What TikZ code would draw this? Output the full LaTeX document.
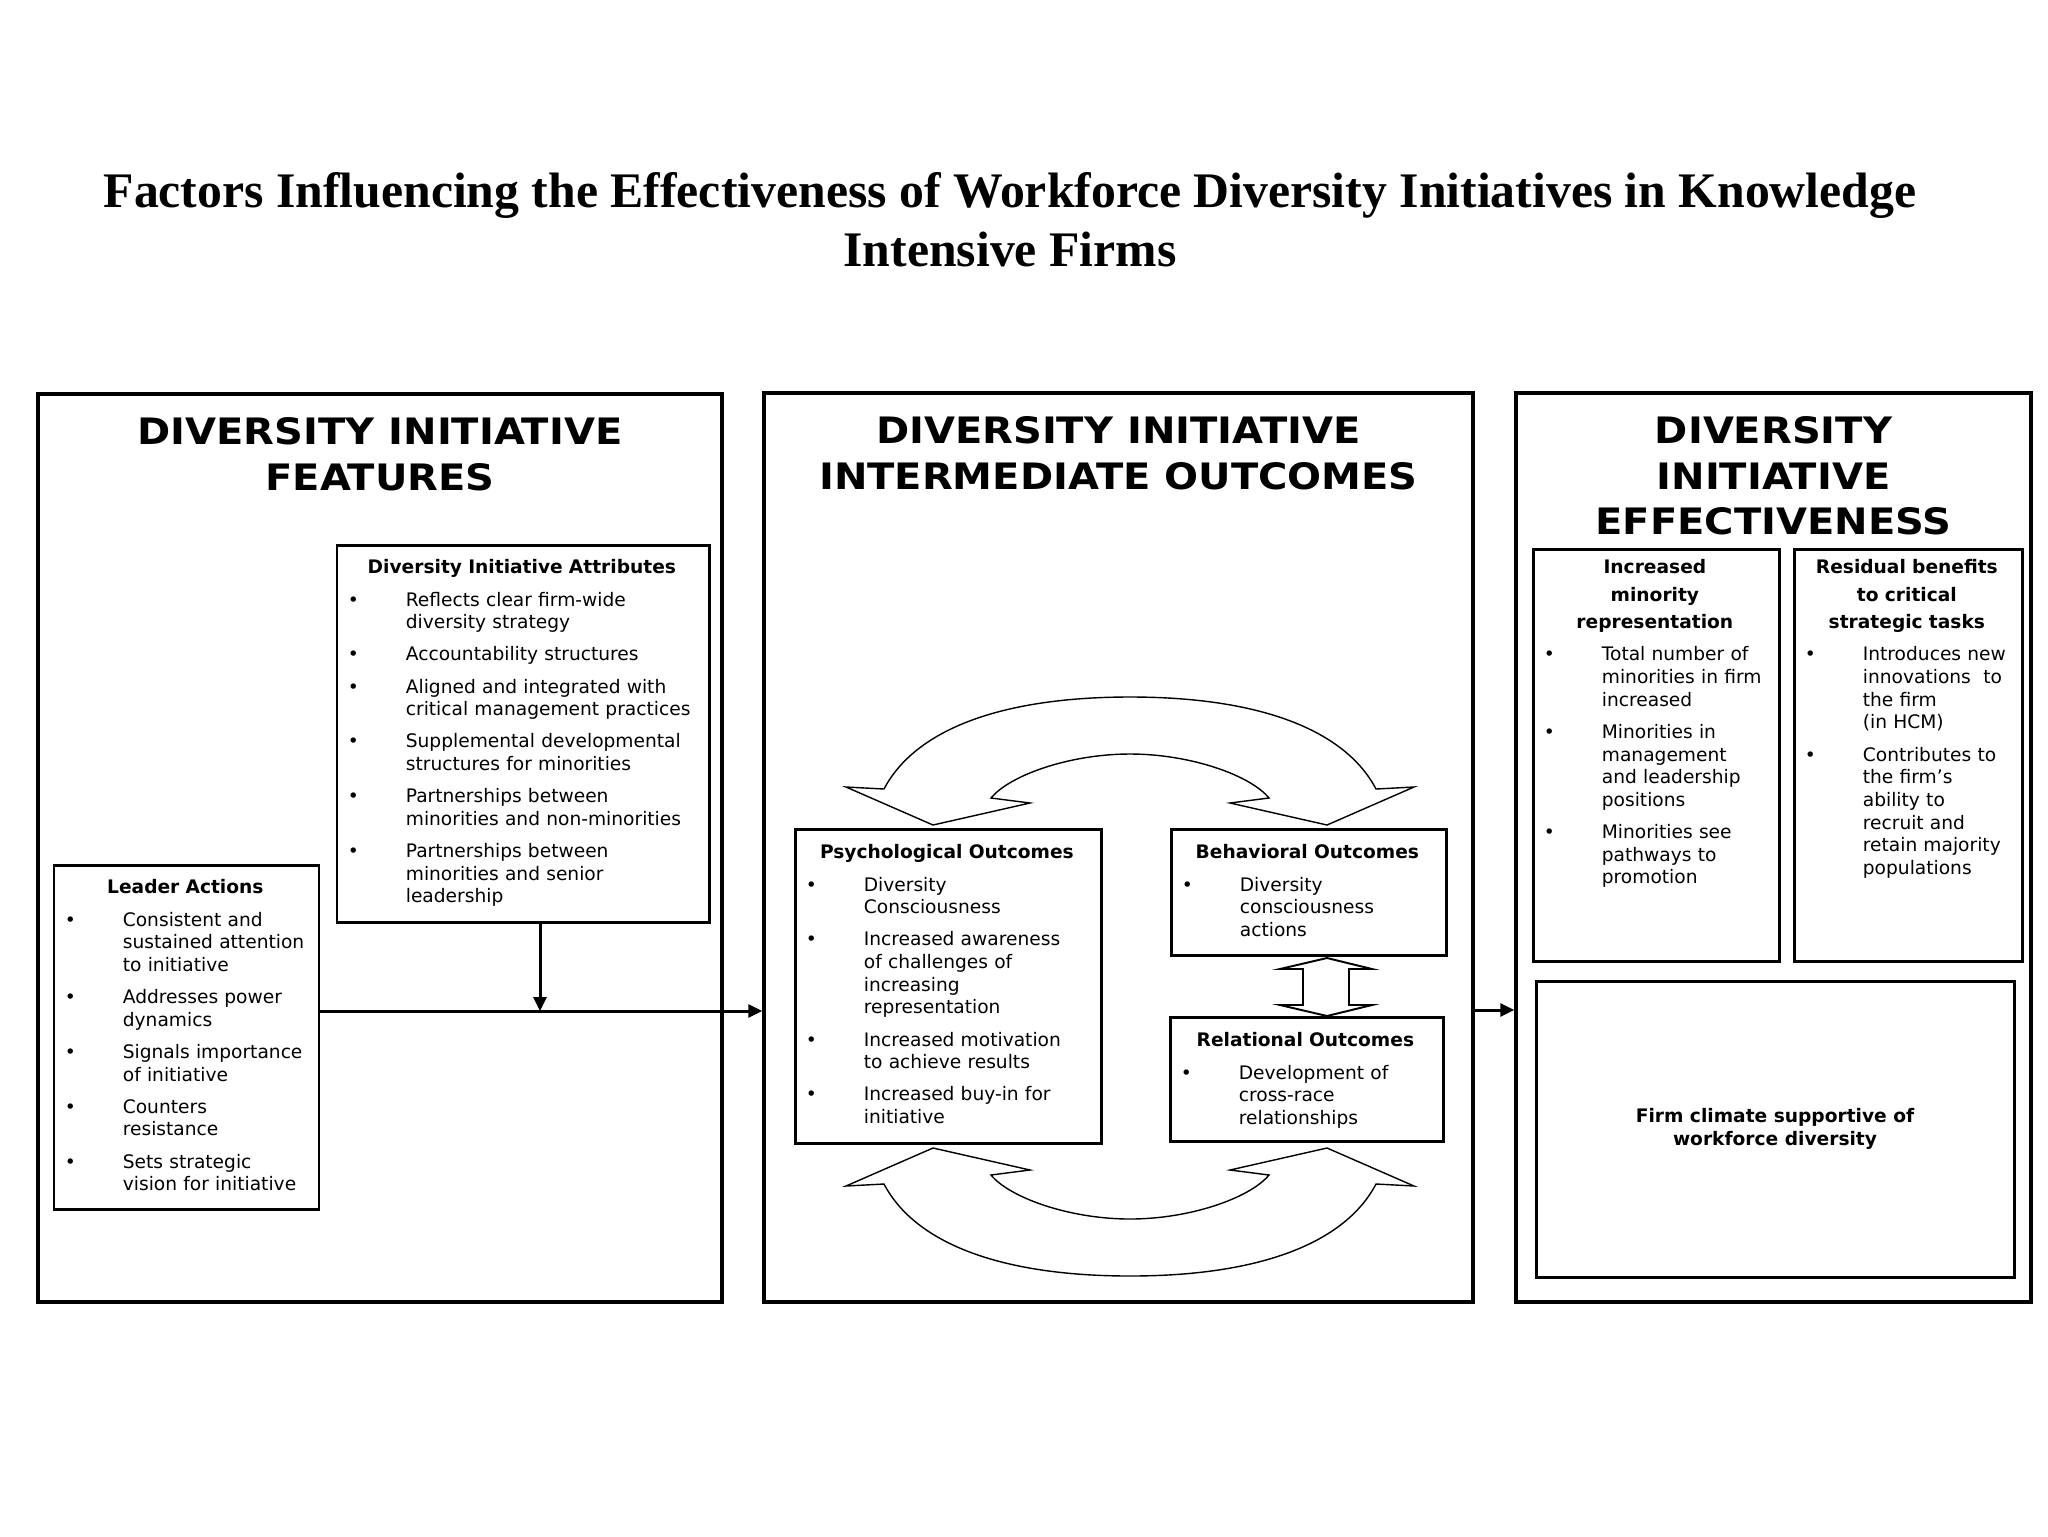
\documentclass[tikz,border=0pt]{standalone}
\usepackage{fontspec}
\setmainfont{Liberation Serif}
\setsansfont{DejaVu Sans}
\newfontfamily\headfont[FakeStretch=1.1]{DejaVu Sans}
\usetikzlibrary{positioning,arrows.meta,calc,fit}

\newcommand{\bodyfont}{\sffamily\fontsize{10.6}{12.9}\selectfont}
\newcommand{\boxhead}[1]{{\centering\bfseries\rule{0pt}{3mm}#1\par}\vspace{1.9mm}}
\newcommand{\widehead}[1]{{\centering\bfseries\fontsize{10.6}{15.6}\selectfont\rule{0pt}{3mm}#1\par}\vspace{1.9mm}}
\newcommand{\bitem}[1]{{\hsize=\dimexpr\hsize+15mm\relax\leftskip=11.6mm\noindent\hspace*{-11.6mm}\makebox[11.6mm][l]{•}#1\par}\vspace{1.9mm}}

\begin{document}
\begin{tikzpicture}[x=0.2mm,y=-0.2mm]
\tikzset{
  panel/.style={draw, line width=2pt, inner sep=0pt},
  itembox/.style={draw, line width=1.7pt, inner sep=0pt},
  itemtext/.style={anchor=north west, inner sep=0pt, text width=#1, align=left, font=\bodyfont},
  panelhead/.style={anchor=north, inner sep=0pt, align=center, font=\headfont\bfseries\fontsize{20.7}{25.9}\selectfont},
  conn/.style={line width=1.7pt, -{Triangle[length=2.8mm,width=2.6mm]}},
  cyclearrow/.style={draw, fill=white, line width=0.8pt, line join=miter}
}
\path[use as bounding box, fill=white] (0,0) rectangle (2048,1536);

\node[anchor=north, inner sep=0pt, align=center, font=\bfseries\fontsize{28.3}{33.5}\selectfont] (title) at (1010,172)
  {Factors Influencing the Effectiveness of Workforce Diversity Initiatives in Knowledge\\Intensive Firms};

% the three panels
\node[panel, fit={(38,394) (722,1302)}] (features) {};
\node[panel, fit={(764,393) (1473,1302)}] (intermediate) {};
\node[panel, fit={(1516,393) (2031,1302)}] (effect) {};

\node[panelhead] (featureshead) at ([yshift=-5mm]features.north) {DIVERSITY INITIATIVE\\FEATURES};
\node[panelhead] (intermediatehead) at ([yshift=-5mm]intermediate.north) {DIVERSITY INITIATIVE\\INTERMEDIATE OUTCOMES};
\node[panelhead] (effecthead) at ([yshift=-5mm]effect.north) {DIVERSITY\\INITIATIVE\\EFFECTIVENESS};

% features
\node[itembox, fit={(337,545) (709,922)}] (attr) {};
\node[itemtext=69.6mm] (attrtext) at ([xshift=2.4mm,yshift=-3mm]attr.north west) {%
  \boxhead{Diversity Initiative Attributes}
  \bitem{Reflects clear firm-wide\\diversity strategy}
  \bitem{Accountability structures}
  \bitem{Aligned and integrated with\\critical management practices}
  \bitem{Supplemental developmental\\structures for minorities}
  \bitem{Partnerships between\\minorities and non-minorities}
  \bitem{Partnerships between\\minorities and senior\\leadership}};

\node[itembox, fit={(54,865) (319,1209)}] (leader) {};
\node[itemtext=48.2mm] (leadertext) at ([xshift=2.4mm,yshift=-3mm]leader.north west) {%
  \boxhead{Leader Actions}
  \bitem{Consistent and\\sustained attention\\to initiative}
  \bitem{Addresses power\\dynamics}
  \bitem{Signals importance\\of initiative}
  \bitem{Counters\\resistance}
  \bitem{Sets strategic\\vision for initiative}};

% intermediate outcomes
\node[itembox, fit={(795,829) (1101,1143)}] (psych) {};
\node[itemtext=56.4mm] (psychtext) at ([xshift=2.4mm,yshift=-3.2mm]psych.north west) {%
  \boxhead{Psychological Outcomes}
  \bitem{Diversity\\Consciousness}
  \bitem{Increased awareness\\of challenges of\\increasing\\representation}
  \bitem{Increased motivation\\to achieve results}
  \bitem{Increased buy-in for\\initiative}};

\node[itembox, fit={(1171,829) (1446,955)}] (behav) {};
\node[itemtext=50.2mm] (behavtext) at ([xshift=2.4mm,yshift=-3.2mm]behav.north west) {%
  \boxhead{Behavioral Outcomes}
  \bitem{Diversity\\consciousness\\actions}};

\node[itembox, fit={(1170,1017) (1443,1141)}] (relat) {};
\node[itemtext=49.8mm] (relattext) at ([xshift=2.4mm,yshift=-3.2mm]relat.north west) {%
  \boxhead{Relational Outcomes}
  \bitem{Development of\\cross-race\\relationships}};

\draw[cyclearrow] (884,789) .. controls (915,730) and (1000,697) .. (1130,697)
  .. controls (1260,697) and (1345,730) .. (1376,789) -- (1414,787) -- (1327,825) -- (1230,803) -- (1269,798)
  .. controls (1250,775) and (1190,754) .. (1130,754) .. controls (1070,754) and (1010,775) .. (991,798)
  -- (1030,803) -- (933,825) -- (846,787) -- cycle;
\draw[cyclearrow] (884,1184) .. controls (915,1243) and (1000,1276) .. (1130,1276)
  .. controls (1260,1276) and (1345,1243) .. (1376,1184) -- (1414,1186) -- (1327,1148) -- (1230,1170) -- (1269,1175)
  .. controls (1250,1198) and (1190,1219) .. (1130,1219) .. controls (1070,1219) and (1010,1198) .. (991,1175)
  -- (1030,1170) -- (933,1148) -- (846,1186) -- cycle;
\draw[cyclearrow, line width=1.1pt] (1327,958) -- (1372,969) -- (1349,969) -- (1349,1005) -- (1372,1005)
  -- (1327,1016) -- (1280,1005) -- (1303,1005) -- (1303,969) -- (1280,969) -- cycle;

% effectiveness
\node[itembox, fit={(1533,549) (1779,961)}] (repr) {};
\node[itemtext=44.4mm] (reprtext) at ([xshift=2.4mm,yshift=-2.2mm]repr.north west) {%
  \widehead{Increased\\minority\\representation}
  \bitem{Total number of\\minorities in firm\\increased}
  \bitem{Minorities in\\management\\and leadership\\positions}
  \bitem{Minorities see\\pathways to\\promotion}};

\node[itembox, fit={(1794,549) (2022,961)}] (resid) {};
\node[itemtext=40.8mm] (residtext) at ([xshift=2.4mm,yshift=-2.2mm]resid.north west) {%
  \widehead{Residual benefits\\to critical\\strategic tasks}
  \bitem{Introduces new\\innovations~~to\\the firm\\(in HCM)}
  \bitem{Contributes to\\the firm’s\\ability to\\recruit and\\retain majority\\populations}};

\node[itembox, fit={(1536,981) (2014,1277)}] (climate) {};
\node[inner sep=0pt, align=center, font=\bodyfont\bfseries] (climatetext) at (climate.center)
  {Firm climate supportive of\\workforce diversity};

% flow between the panels
\coordinate (join) at (540,1011);
\coordinate (handover) at (1495,1010);
\draw[conn] (join |- attr.south) -- (join);
\draw[conn] (leader.east |- join) -- (intermediate.west |- join);
\draw[conn] (intermediate.east |- handover) -- (effect.west |- handover);
\end{tikzpicture}
\end{document}
